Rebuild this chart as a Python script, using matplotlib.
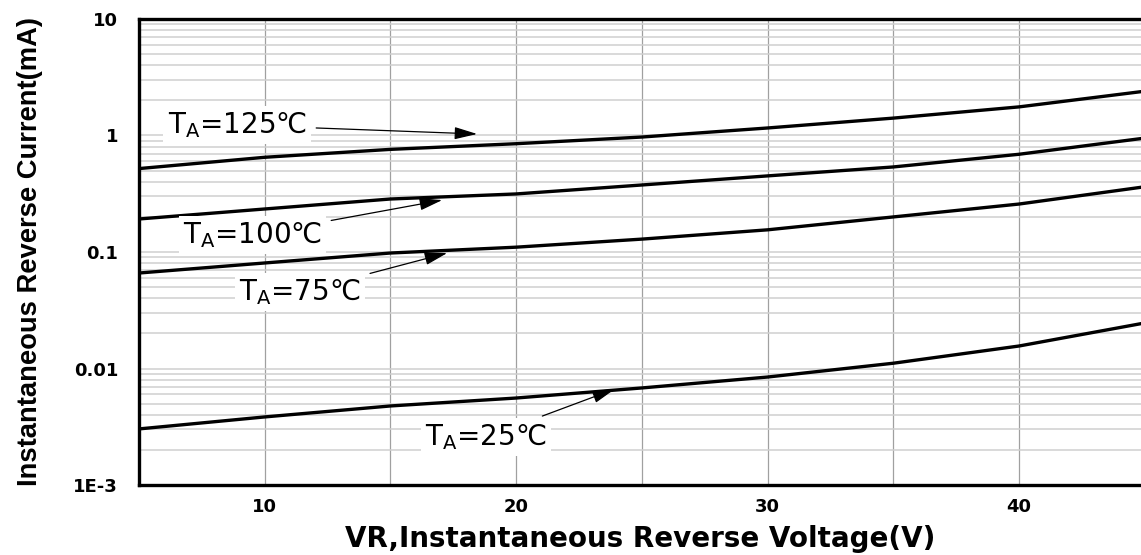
import numpy as np
import matplotlib
matplotlib.use('Agg')
import matplotlib.pyplot as plt
from matplotlib.ticker import FixedLocator, LogLocator, NullFormatter

plt.rcParams['font.family'] = ['DejaVu Sans']
plt.rcParams['mathtext.fontset'] = 'dejavusans'

# reverse voltage (V)
vr = [5, 10, 15, 20, 25, 30, 35, 40, 45]

# reverse current (mA) per ambient temperature
ir_125 = [0.52, 0.65, 0.76, 0.85, 0.97, 1.16, 1.41, 1.76, 2.4]
ir_100 = [0.192, 0.234, 0.285, 0.315, 0.376, 0.45, 0.537, 0.69, 0.95]
ir_75 = [0.066, 0.0805, 0.098, 0.110, 0.129, 0.155, 0.20, 0.258, 0.363]
ir_25 = [0.00303, 0.00384, 0.00477, 0.00558, 0.00681, 0.00845, 0.0111, 0.0156, 0.0246]

labels = ['125', '100', '75', '25']
# (text x, text y, arrow head x, arrow head y)
label_pos = [(8.9, 1.23, 18.45, 1.03),
             (9.5, 0.14, 17.06, 0.279),
             (11.4, 0.0454, 17.26, 0.098),
             (18.8, 0.00258, 23.93, 0.00667)]

fig = plt.figure(figsize=(11.41, 5.55), dpi=100)
ax = fig.add_axes([0.1218, 0.1261, 0.8782, 0.8397])

for ys in [ir_125, ir_100, ir_75, ir_25]:
    ax.plot(vr, ys, color='black', lw=2.4, zorder=3, solid_capstyle='butt')

ax.set_yscale('log')
ax.set_xlim(5, 44.85)
ax.set_ylim(1e-3, 10)

ax.xaxis.set_major_locator(FixedLocator([10, 20, 30, 40]))
ax.xaxis.set_minor_locator(FixedLocator([15, 25, 35]))
ax.set_yticks([1e-3, 1e-2, 1e-1, 1, 10])
ax.set_yticklabels(['1E-3', '0.01', '0.1', '1', '10'])
ax.yaxis.set_minor_locator(LogLocator(base=10, subs=np.arange(2, 10)))
ax.yaxis.set_minor_formatter(NullFormatter())

ax.grid(True, which='both', axis='x', color='#a0a0a0', lw=0.9)
ax.grid(True, which='both', axis='y', color='#cfcfcf', lw=1.1)
ax.set_axisbelow(True)

ax.tick_params(which='both', length=0)
ax.tick_params(axis='x', pad=9)
ax.tick_params(axis='y', pad=15)
for lab in ax.get_xticklabels() + ax.get_yticklabels():
    lab.set_fontweight('bold')
    lab.set_fontsize(13)

for side in ['left', 'bottom', 'top']:
    ax.spines[side].set_linewidth(2.4)
ax.spines['right'].set_visible(False)

for name, (tx, ty, hx, hy) in zip(labels, label_pos):
    ax.annotate('T$_{\\mathrm{A}}$=' + name + '\u2103', xy=(hx, hy), xytext=(tx, ty),
                ha='center', va='center', fontsize=20, zorder=4,
                bbox=dict(boxstyle='square,pad=0.15', fc='white', ec='none'),
                arrowprops=dict(arrowstyle='-|>,head_length=0.7,head_width=0.19',
                                color='black', lw=0.9, shrinkA=4, shrinkB=0))

ax.set_xlabel('VR,Instantaneous Reverse Voltage(V)', fontsize=20, fontweight='bold',
              labelpad=7)
ax.set_ylabel('Instantaneous Reverse Current(mA)', fontsize=19.7, fontweight='bold',
              family='Liberation Sans', labelpad=22)

fig.savefig('out.png', dpi=100)
